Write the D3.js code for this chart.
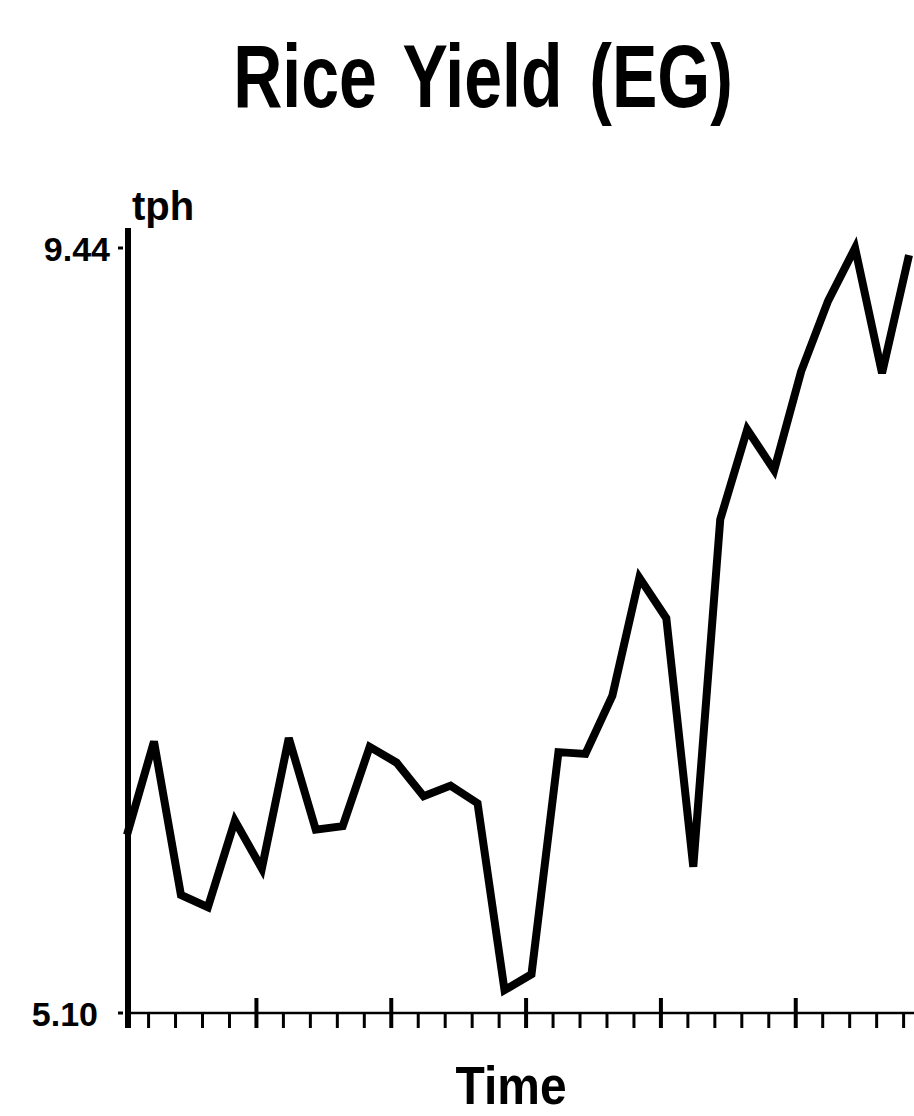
<!DOCTYPE html>
<html>
<head>
<meta charset="utf-8">
<script src="https://cdn.jsdelivr.net/npm/d3@7"></script>
<style>
  html, body { margin: 0; padding: 0; background: #fff; }
  svg { display: block; }
  text { font-family: "Liberation Sans", Arial, Helvetica, sans-serif; font-weight: bold; fill: #000; }
</style>
</head>
<body>
<svg id="chart" width="914" height="1116"></svg>
<script>
// Annual rice yield series, tonnes per hectare
const periods = d3.range(0, 30);
const yieldTph = [
  6.11, 6.64, 5.77, 5.70, 6.19, 5.92, 6.66, 6.14, 6.16, 6.61,
  6.52, 6.33, 6.39, 6.29, 5.23, 5.32, 6.58, 6.57, 6.90, 7.57,
  7.34, 5.93, 7.90, 8.41, 8.18, 8.74, 9.14, 9.44, 8.73, 9.40
];
const yMin = 5.10, yMax = 9.44;
const yTickLabels = ["5.10", "9.44"];
// one tick per period, a long tick every fifth period
const tickPositions = d3.range(1, 30).map(k => k - 0.2);
const majorEvery = 5;

const title = "Rice Yield (EG)";
const yUnit = "tph";
const xTitle = "Time";

const svg = d3.select("#chart");

const x = d3.scaleLinear().domain([0, 29]).range([127, 909]);
const y = d3.scaleLinear().domain([yMin, yMax]).range([1013, 248]);

// title
svg.append("text")
  .attr("transform", "translate(483,107) scale(1,1.3)")
  .attr("text-anchor", "middle")
  .style("font-size", "68px")
  .style("word-spacing", "8px")
  .text(title);

// y axis line
const axisX = 128;
svg.append("line")
  .attr("x1", axisX).attr("x2", axisX)
  .attr("y1", 228).attr("y2", 1028)
  .attr("stroke", "#000").attr("stroke-width", 6);

// y tick marks and labels
[yMin, yMax].forEach((v, i) => {
  svg.append("line")
    .attr("x1", axisX - 10).attr("x2", axisX - 5)
    .attr("y1", y(v)).attr("y2", y(v))
    .attr("stroke", "#000").attr("stroke-width", 3);
  svg.append("text")
    .attr("x", i === 0 ? 98 : 110)
    .attr("y", y(v) + 13)
    .attr("text-anchor", "end")
    .style("font-size", "34px")
    .text(yTickLabels[i]);
});

// unit label
svg.append("text")
  .attr("x", 132).attr("y", 220)
  .style("font-size", "40px")
  .text(yUnit);

// x axis line
svg.append("line")
  .attr("x1", axisX).attr("x2", 914)
  .attr("y1", y(yMin)).attr("y2", y(yMin))
  .attr("stroke", "#000").attr("stroke-width", 2.5);

// x ticks
svg.append("g").selectAll("line")
  .data(tickPositions)
  .join("line")
  .attr("x1", d => x(d)).attr("x2", d => x(d))
  .attr("y1", (d, i) => ((i + 1) % majorEvery === 0) ? y(yMin) - 15 : y(yMin))
  .attr("y2", y(yMin) + 15)
  .attr("stroke", "#000")
  .attr("stroke-width", (d, i) => ((i + 1) % majorEvery === 0) ? 4 : 3);

// x axis title
svg.append("text")
  .attr("transform", "translate(511,1104) scale(1,1.12)")
  .attr("text-anchor", "middle")
  .style("font-size", "48px")
  .text(xTitle);

// yield line
const line = d3.line()
  .x((d, i) => x(periods[i]))
  .y(d => y(d));

svg.append("path")
  .datum(yieldTph)
  .attr("d", line)
  .attr("fill", "none")
  .attr("stroke", "#000")
  .attr("stroke-width", 8)
  .attr("stroke-linejoin", "miter")
  .attr("stroke-miterlimit", 3);
</script>
</body>
</html>
